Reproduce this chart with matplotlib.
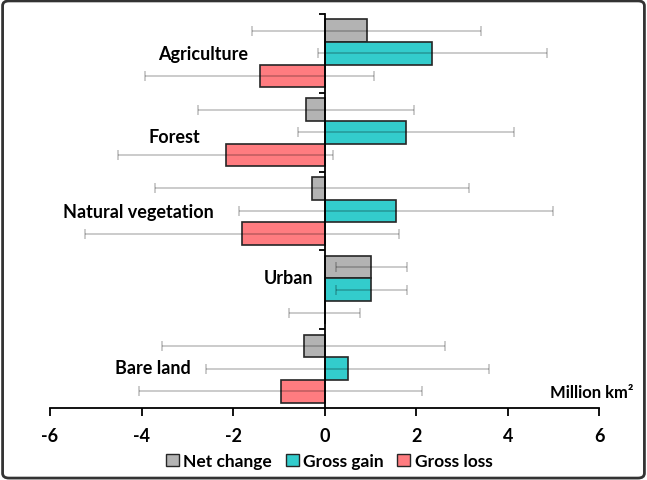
import matplotlib

matplotlib.use("Agg")
import matplotlib.pyplot as plt
import numpy as np
from matplotlib.patches import FancyBboxPatch, Patch

# ---- data (million km2) ----
CATEGORIES = ["Agriculture", "Forest", "Natural vegetation", "Urban", "Bare land"]
NET = [0.92, -0.40, -0.28, 1.02, -0.46]
GAIN = [2.35, 1.77, 1.55, 1.02, 0.50]
LOSS = [-1.42, -2.16, -1.80, 0.0, -0.96]
NET_ERR = [2.50, 2.36, 3.43, 0.78, 3.09]
GAIN_ERR = [2.50, 2.36, 3.43, 0.78, 3.09]
LOSS_ERR = [2.50, 2.35, 3.43, 0.77, 3.09]
SERIES = ["Net change", "Gross gain", "Gross loss"]
XTICKS = [-6, -4, -2, 0, 2, 4, 6]

# manual label placement (x in data units = right edge, y in category units)
LABEL_POS = [(-1.68, 0.0), (-2.71, 1.06), (-2.43, 2.01), (-0.26, 2.84), (-2.93, 3.99)]

COLORS = ["#b3b3b3", "#33cccc", "#ff7c80"]
EDGE = "#262626"
FONT = ["Lato", "DejaVu Sans"]

plt.rcParams["font.family"] = FONT
plt.rcParams["font.weight"] = "bold"

fig = plt.figure(figsize=(6.47, 4.81), dpi=100)
ax = fig.add_axes([0.0773, 0.1497, 0.849, 0.819])

y = np.arange(len(CATEGORIES))
h = 0.288
offsets = [-h, 0.0, h]
values = [NET, GAIN, LOSS]
errors = [NET_ERR, GAIN_ERR, LOSS_ERR]

for vals, errs, off, col in zip(values, errors, offsets, COLORS):
    ax.barh(y + off, vals, height=h, color=col, edgecolor=EDGE, linewidth=1.2, zorder=2)
    ax.errorbar(vals, y + off, xerr=errs, fmt="none", ecolor=(0, 0, 0, 0.22),
                elinewidth=1.3, capsize=3.5, capthick=1.3, zorder=3)

ax.set_xlim(-6, 6)
ax.set_ylim(len(CATEGORIES) - 0.5, -0.5)

for side in ("top", "right"):
    ax.spines[side].set_visible(False)
ax.spines["left"].set_position(("data", 0))
ax.spines["left"].set_linewidth(1.3)
ax.spines["left"].set_zorder(4)
ax.spines["bottom"].set_linewidth(1.3)

ax.set_xticks(XTICKS)
ax.set_xticklabels([str(v) for v in XTICKS], fontsize=13, fontweight="bold")
ax.tick_params(axis="x", direction="out", length=6, width=1.3, pad=8)
ax.set_yticks(np.arange(-0.5, len(CATEGORIES) - 0.5, 1.0))
ax.set_yticklabels([])
ax.tick_params(axis="y", direction="out", length=4, width=1.3)

for name, (lx, ly) in zip(CATEGORIES, LABEL_POS):
    ax.text(lx, ly, name, ha="right", va="center", fontsize=13, fontweight="bold")

fig.text(633 / 647, 1 - 393 / 481, "Million km²", ha="right", va="center",
         fontsize=12, fontweight="bold")

handles = [Patch(facecolor=c, edgecolor=EDGE, linewidth=1.0, label=s)
           for c, s in zip(COLORS, SERIES)]
fig.legend(handles=handles, loc="center", bbox_to_anchor=(329 / 647, 1 - 462 / 481),
           ncol=3, frameon=False, handlelength=0.75, handleheight=0.75,
           handletextpad=0.25, columnspacing=0.8, prop={"weight": "bold", "size": 12.5})

border = FancyBboxPatch((0.004, 0.004), 0.992, 0.992, boxstyle="round,pad=0,rounding_size=0.01",
                        transform=fig.transFigure, fill=False, edgecolor="#333333",
                        linewidth=2.0)
fig.patches.append(border)

fig.savefig("out.png", dpi=100)
